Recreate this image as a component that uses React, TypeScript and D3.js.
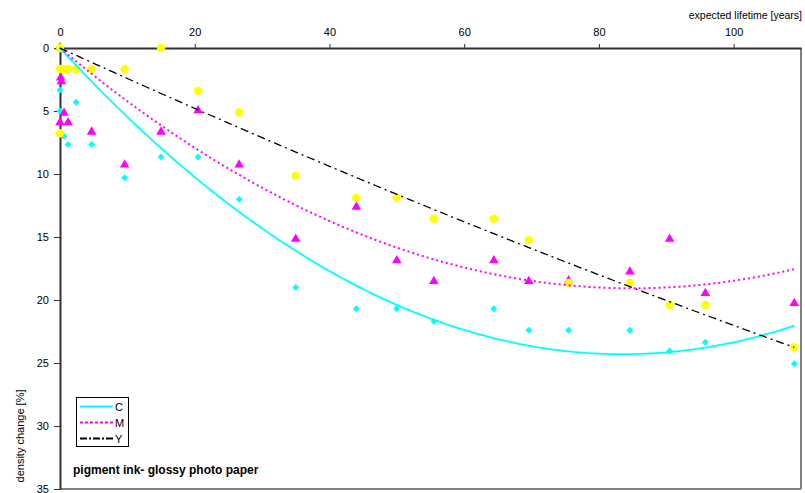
import { useEffect, useRef } from "react";
import * as d3 from "d3";

// expected lifetime [years] vs density change [%], per ink channel
const cyanPoints: [number, number][] = [
  [0, 0], [0, 3.33], [2.4, 4.3], [0, 5.0], [0.6, 7.0], [1.2, 7.65], [4.7, 7.65],
  [9.6, 10.3], [15, 8.65], [20.5, 8.65], [26.6, 12.0], [35, 19.0], [44, 20.7],
  [50, 20.7], [55.5, 21.7], [64.4, 20.7], [69.6, 22.4], [75.5, 22.4], [84.6, 22.4],
  [90.5, 24.05], [95.8, 23.35], [109, 25.05],
];
const magentaPoints: [number, number][] = [
  [0, 0], [0.1, 2.4], [0.2, 2.7], [0.6, 5.2], [0, 5.95], [1.2, 5.95], [4.7, 6.7],
  [9.6, 9.3], [15, 6.7], [20.5, 5.0], [26.6, 9.3], [35, 15.2], [44, 12.65],
  [50, 16.9], [55.5, 18.55], [64.4, 16.9], [69.6, 18.55], [75.5, 18.5], [84.6, 17.8],
  [90.5, 15.2], [95.8, 19.5], [109, 20.3],
];
const yellowPoints: [number, number][] = [
  [0, 0], [0, 1.67], [0.5, 1.67], [1.2, 1.67], [2.4, 1.67], [4.7, 1.67], [9.6, 1.67],
  [0, 6.77], [15, 0], [20.5, 3.4], [26.6, 5.1], [35, 10.15], [44, 11.9], [50, 11.9],
  [55.5, 13.55], [64.4, 13.55], [69.6, 15.25], [75.5, 18.65], [84.6, 18.65],
  [90.5, 20.4], [95.8, 20.4], [109, 23.75],
];

const xTicks = [0, 20, 40, 60, 80, 100];
const yTicks = [0, 5, 10, 15, 20, 25, 30, 35];
const legendLabels = ["C", "M", "Y"];

const W = 805;
const H = 493;
const FONT = "'Liberation Sans', Arial, sans-serif";

// least-squares polynomial through the origin: y = a*x + b*x^2
function fitQuadratic(pts: [number, number][]) {
  let s2 = 0, s3 = 0, s4 = 0, sxy = 0, sx2y = 0;
  for (const [x, y] of pts) {
    s2 += x * x;
    s3 += x * x * x;
    s4 += x * x * x * x;
    sxy += x * y;
    sx2y += x * x * y;
  }
  const det = s2 * s4 - s3 * s3;
  const a = (sxy * s4 - s3 * sx2y) / det;
  const b = (s2 * sx2y - s3 * sxy) / det;
  return (x: number) => a * x + b * x * x;
}

export default function App() {
  const svgRef = useRef<SVGSVGElement>(null);

  useEffect(() => {
    if (!svgRef.current) return;
    const svg = d3.select(svgRef.current);
    svg.selectAll("*").remove();

    const left = 60, top = 48, right = 801, bottom = 489;
    const x = d3.scaleLinear().domain([0, 110]).range([left, right]);
    const y = d3.scaleLinear().domain([0, 35]).range([top, bottom]);

    // plot frame
    svg.append("line")
      .attr("x1", right).attr("x2", right).attr("y1", top).attr("y2", bottom)
      .attr("stroke", "#000").attr("stroke-width", 1);
    svg.append("line")
      .attr("x1", left).attr("x2", right).attr("y1", bottom).attr("y2", bottom)
      .attr("stroke", "#808080").attr("stroke-width", 2);

    // top axis
    const xAxis = svg.append("g")
      .attr("transform", `translate(0,${top})`)
      .call(d3.axisTop(x).tickValues(xTicks).tickSize(4).tickSizeOuter(0).tickPadding(8));
    xAxis.select(".domain").attr("stroke", "#333").attr("stroke-width", 2);
    xAxis.selectAll(".tick line").attr("stroke", "#333");
    xAxis.selectAll("text").attr("font-family", FONT).attr("font-size", 11).attr("fill", "#000");

    // left axis
    const yAxis = svg.append("g")
      .attr("transform", `translate(${left},0)`)
      .call(d3.axisLeft(y).tickValues(yTicks).tickSize(6).tickSizeOuter(0).tickPadding(5));
    yAxis.select(".domain").attr("stroke", "#333").attr("stroke-width", 2);
    yAxis.selectAll(".tick line").attr("stroke", "#333");
    yAxis.selectAll("text").attr("font-family", FONT).attr("font-size", 11).attr("fill", "#000");

    svg.append("text")
      .attr("x", 802).attr("y", 19)
      .attr("text-anchor", "end")
      .attr("font-family", FONT).attr("font-size", 10.5)
      .text("expected lifetime [years]");

    svg.append("text")
      .attr("transform", "translate(24,436) rotate(-90)")
      .attr("text-anchor", "middle")
      .attr("font-family", FONT).attr("font-size", 11)
      .text("density change [%]");

    // markers
    const diamond = d3.symbol(d3.symbolSquare, 24);
    const triangle = d3.symbol(d3.symbolTriangle, 40);

    svg.append("g").selectAll("path").data(cyanPoints).join("path")
      .attr("d", diamond)
      .attr("transform", (d) => `translate(${x(d[0])},${y(d[1])}) rotate(45)`)
      .attr("fill", "#00FFFF");
    svg.append("g").selectAll("path").data(magentaPoints).join("path")
      .attr("d", triangle)
      .attr("transform", (d) => `translate(${x(d[0])},${y(d[1]) - 0.5})`)
      .attr("fill", "#FF00FF");
    svg.append("g").selectAll("circle").data(yellowPoints).join("circle")
      .attr("cx", (d) => x(d[0])).attr("cy", (d) => y(d[1]))
      .attr("r", 4.2)
      .attr("fill", "#FFFF00");

    // trendlines (2nd order polynomial, intercept 0)
    const xs = d3.range(0, 109.01, 0.5);
    const line = d3.line<number>();
    const trends = [
      { f: fitQuadratic(cyanPoints), color: "#00FFFF", dash: null, w: 1.8 },
      { f: fitQuadratic(magentaPoints), color: "#FF00FF", dash: "2,3", w: 2 },
      { f: fitQuadratic(yellowPoints), color: "#000", dash: "8,4,2,4", w: 1.3 },
    ];
    trends.forEach((t) => {
      svg.append("path")
        .attr("d", line.x((v) => x(v)).y((v) => y(t.f(v)))(xs))
        .attr("fill", "none")
        .attr("stroke", t.color)
        .attr("stroke-width", t.w)
        .attr("stroke-dasharray", t.dash);
    });

    // legend
    const lg = svg.append("g");
    lg.append("rect")
      .attr("x", 76.5).attr("y", 397.5).attr("width", 52).attr("height", 49)
      .attr("fill", "#fff").attr("stroke", "#000").attr("stroke-width", 1);
    const legendStyles = [
      { color: "#00FFFF", dash: null },
      { color: "#FF00FF", dash: "3,2" },
      { color: "#000", dash: "7,2,2,2" },
    ];
    legendLabels.forEach((label, i) => {
      const ly = 406.5 + i * 16;
      lg.append("line")
        .attr("x1", 80).attr("x2", 113).attr("y1", ly).attr("y2", ly)
        .attr("stroke", legendStyles[i].color).attr("stroke-width", 2)
        .attr("stroke-dasharray", legendStyles[i].dash);
      lg.append("text")
        .attr("x", 115).attr("y", ly + 4)
        .attr("font-family", FONT).attr("font-size", 11)
        .text(label);
    });

    svg.append("text")
      .attr("x", 73).attr("y", 474)
      .attr("font-family", FONT).attr("font-size", 12).attr("font-weight", "bold")
      .text("pigment ink- glossy photo paper");
  }, []);

  return (
    <svg
      ref={svgRef}
      width={W}
      height={H}
      style={{ position: "absolute", left: 0, top: 0, background: "#fff" }}
    />
  );
}
